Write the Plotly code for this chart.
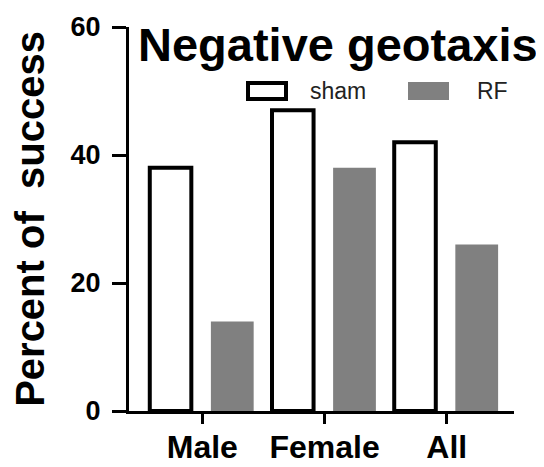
import plotly.graph_objects as go

categories = ["Male", "Female", "All"]
sham = [38, 47, 42]
rf = [14, 38, 26]
xpos = [0, 1, 2]

OFF = 8  # page body margin
W, H = 544 - OFF, 467 - OFF
L, R, T, B = 121, 30, 27 - OFF, 56
pw, ph = W - L - R, H - T - B
def px(x): return (x - 5 - L) / pw
def py(y): return (H - B - (y - OFF)) / ph

fig = go.Figure()
fig.add_trace(go.Bar(x=xpos, y=sham, name="sham", offset=-0.43, width=0.34,
                     marker=dict(color="white", line=dict(color="black", width=4))))
fig.add_trace(go.Bar(x=xpos, y=rf, name="RF", offset=0.07, width=0.35,
                     marker=dict(color="#808080", line=dict(width=0))))
F = "Liberation Sans, Arial, sans-serif"
fig.update_layout(
    width=W, height=H, barmode="overlay",
    margin=dict(l=L, r=R, t=T, b=B, autoexpand=False),
    plot_bgcolor="white", paper_bgcolor="white",
    font=dict(family=F, color="black"),
    showlegend=False,
    xaxis=dict(range=[-0.6, 2.55], tickvals=xpos, ticktext=categories, automargin=False,
               showline=True, linecolor="black", linewidth=3, showgrid=False,
               ticks="outside", ticklen=10, tickwidth=3, tickcolor="black",
               ticklabelstandoff=-4,
               tickfont=dict(size=32, family=F, color="black", weight="bold"), zeroline=False),
    yaxis=dict(range=[0, 60], tickvals=[0, 20, 40, 60], automargin=False,
               showline=True, linecolor="black", linewidth=3, showgrid=False,
               ticks="outside", ticklen=14, tickwidth=3, tickcolor="black",
               ticklabelstandoff=6,
               tickfont=dict(size=27, family=F, color="black", weight="bold"), zeroline=False,
               title=dict(text="Percent of  success", font=dict(size=40, family=F, weight="bold"), standoff=14)),
    shapes=[
        dict(type="rect", xref="paper", yref="paper", x0=px(245), x1=px(283), y0=py(99), y1=py(83),
             line=dict(color="black", width=4), fillcolor="white"),
        dict(type="rect", xref="paper", yref="paper", x0=px(405), x1=px(446), y0=py(100), y1=py(82),
             line=dict(width=0), fillcolor="#808080"),
    ],
    annotations=[
        dict(text="<b>Negative geotaxis</b>", x=px(335), y=py(44), xref="paper", yref="paper",
             xanchor="center", yanchor="middle", showarrow=False,
             font=dict(size=47, family=F, color="black")),
        dict(text="sham", x=px(305), y=py(91), xref="paper", yref="paper",
             xanchor="left", yanchor="middle", showarrow=False, font=dict(size=23, color="#222")),
        dict(text="RF", x=px(472), y=py(91), xref="paper", yref="paper",
             xanchor="left", yanchor="middle", showarrow=False, font=dict(size=23, color="#222")),
    ],
)
fig.write_html("out.html")
